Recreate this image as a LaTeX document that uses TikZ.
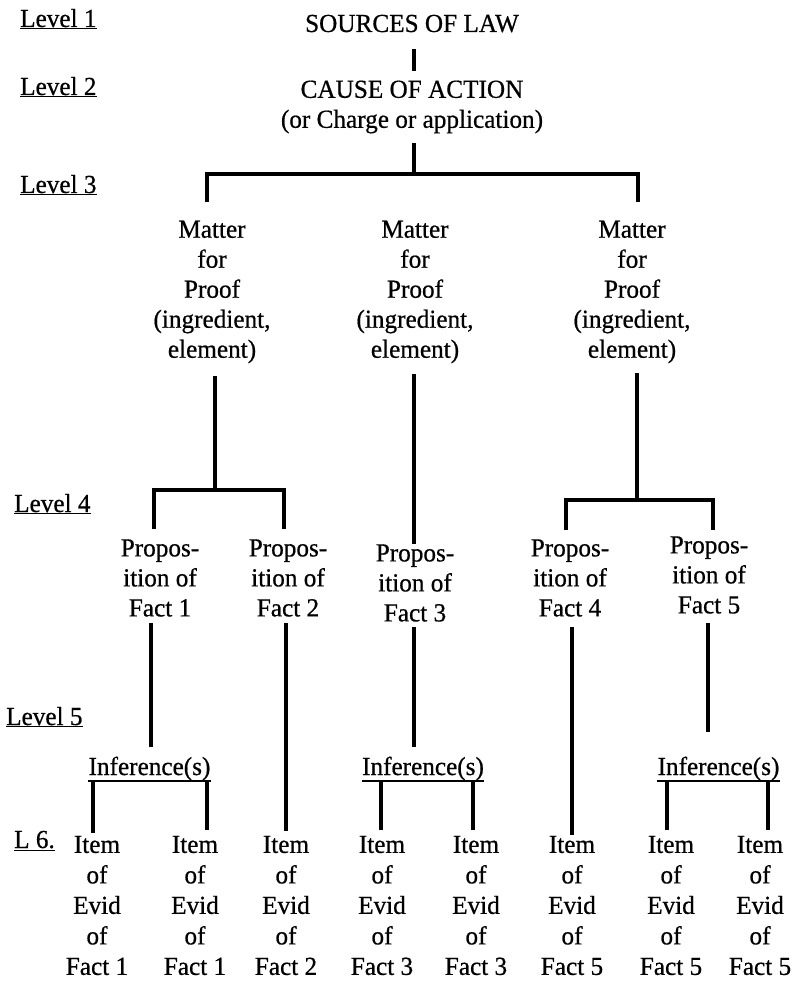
\documentclass[tikz,border=0pt]{standalone}
\usepackage{fontspec}
\setmainfont{Liberation Serif}[FakeBold=0.6, FakeStretch=0.97]
\begin{document}
\begin{tikzpicture}[x=1pt,y=-1pt,
  txt/.style={inner sep=0pt, align=center, font=\fontsize{26}{30}\selectfont},
  itembox/.style={inner sep=0pt, align=center, font=\fontsize{26}{30.5}\selectfont},
  lvl/.style={inner sep=0pt, anchor=base west, font=\fontsize{26}{30}\selectfont},
  conn/.style={line width=3.2pt},
  uline/.style={line width=2.2pt}]
\useasboundingbox (0,0) rectangle (794,981);

% level labels
\node[lvl] (lv1) at (20,27)  {\underline{Level 1}};
\node[lvl] (lv2) at (20,95)  {\underline{Level 2}};
\node[lvl] (lv3) at (20,193) {\underline{Level 3}};
\node[lvl] (lv4) at (14,512) {\underline{Level 4}};
\node[lvl] (lv5) at (6,725)  {\underline{Level 5}};
\node[lvl] (lv6) at (14,848) {\underline{L 6.}};

% levels 1 and 2
\node[txt, anchor=base] (src) at (412,32) {SOURCES OF LAW};
\node[txt] (cause) at (412,107) {CAUSE OF ACTION\\(or Charge or application)};

% level 3: matters for proof
\node[txt] (m1) at (212,292) {Matter\\for\\Proof\\(ingredient,\\element)};
\node[txt] (m2) at (415,292) {Matter\\for\\Proof\\(ingredient,\\element)};
\node[txt] (m3) at (632,292) {Matter\\for\\Proof\\(ingredient,\\element)};

% level 4: propositions of fact
\node[txt] (p1) at (160,578) {Propos-\\ition of\\Fact 1};
\node[txt] (p2) at (288,578) {Propos-\\ition of\\Fact 2};
\node[txt] (p3) at (415,583) {Propos-\\ition of\\Fact 3};
\node[txt] (p4) at (570,578) {Propos-\\ition of\\Fact 4};
\node[txt] (p5) at (709,575) {Propos-\\ition of\\Fact 5};

% level 5: inferences
\node[txt, anchor=base] (inf1) at (149.5,775) {Inference(s)};
\node[txt, anchor=base] (inf3) at (423,775) {Inference(s)};
\node[txt, anchor=base] (inf5) at (718.5,775) {Inference(s)};

% level 6: items of evidence
\node[itembox] (e1) at (97,905.5)  {Item\\of\\Evid\\of\\Fact 1};
\node[itembox] (e2) at (195,905.5) {Item\\of\\Evid\\of\\Fact 1};
\node[itembox] (e3) at (286,905.5) {Item\\of\\Evid\\of\\Fact 2};
\node[itembox] (e4) at (382,905.5) {Item\\of\\Evid\\of\\Fact 3};
\node[itembox] (e5) at (476,905.5) {Item\\of\\Evid\\of\\Fact 3};
\node[itembox] (e6) at (572,905.5) {Item\\of\\Evid\\of\\Fact 5};
\node[itembox] (e7) at (671,905.5) {Item\\of\\Evid\\of\\Fact 5};
\node[itembox] (e8) at (760,905.5) {Item\\of\\Evid\\of\\Fact 5};

% junctions of the brackets
\coordinate (j3)  at (414,174);
\coordinate (t1)  at (207,202);
\coordinate (t3)  at (638,202);
\coordinate (j4a) at (215,490);
\coordinate (u1)  at (154,529);
\coordinate (u2)  at (284,529);
\coordinate (j4b) at (637,500);
\coordinate (u4)  at (566,530);
\coordinate (u5)  at (713,530);

% level 1 to level 3
\draw[conn] (414,49) -- (414,71);
\draw[conn] (cause.south -| j3) ++(0,9.5) -- (j3);
\draw[conn] (t1) |- (j3) -| (t3);

% level 3 to level 4
\draw[conn] (m1.south -| j4a) ++(0,13) -- (j4a);
\draw[conn] (u1) |- (j4a) -| (u2);
\draw[conn] (m2.south -| 414,0) ++(0,11) -- (p3.north -| 414,0) ++(0,-3);
\draw[conn] (m3.south -| j4b) ++(0,10) -- (j4b);
\draw[conn] (u4) |- (j4b) -| (u5);

% level 4 to level 5 and 6
\draw[conn] (151,623) -- (151,747);
\draw[conn] (286,623) -- (286,831);
\draw[conn] (414,627) -- (414,747);
\draw[conn] (572,627) -- (572,835);
\draw[conn] (708,623) -- (708,732);

% inference brackets
\draw[uline] (inf1.south west) -- (inf1.south east);
\draw[conn] (93,780) -- (93,833);
\draw[conn] (207,780) -- (207,830);
\draw[uline] (inf3.south west) -- (inf3.south east);
\draw[conn] (381,780) -- (381,830);
\draw[conn] (473,780) -- (473,830);
\draw[uline] (inf5.south west) -- (inf5.south east);
\draw[conn] (667,780) -- (667,830);
\draw[conn] (768,780) -- (768,830);
\end{tikzpicture}
\end{document}
